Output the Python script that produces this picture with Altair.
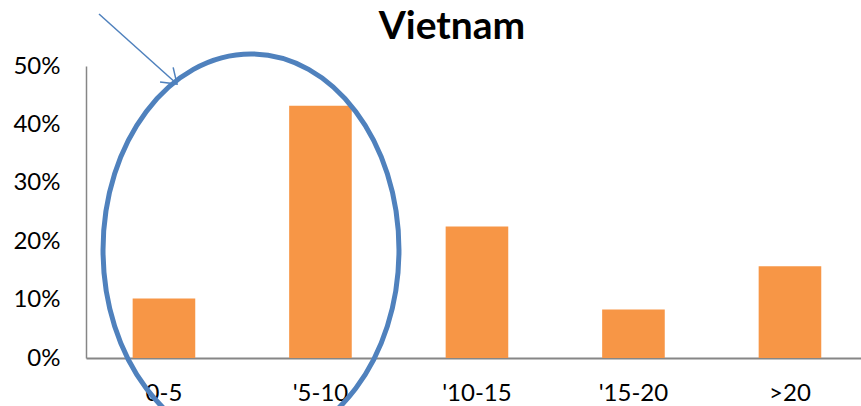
import altair as alt
import pandas as pd

# Share of respondents by years (Vietnam)
categories = ["0-5", "'5-10", "'10-15", "'15-20", ">20"]
shares = [0.102, 0.432, 0.225, 0.083, 0.157]
chart_title = "Vietnam"

df = pd.DataFrame({"range": categories, "share": shares})

AXIS_GREY = "#868686"
BAR_ORANGE = "#F79646"
MARK_BLUE = "#4F81BD"
FONT = "Lato"

x_enc = alt.X(
    "range:N",
    sort=categories,
    scale=alt.Scale(paddingInner=0.6, paddingOuter=0.276, align=0.54),
    axis=alt.Axis(
        title=None,
        labelAngle=0,
        ticks=False,
        labelFontSize=24,
        labelFont=FONT,
        labelColor="black",
        labelPadding=23,
        domainColor=AXIS_GREY,
        domainWidth=2,
    ),
)

y_enc = alt.Y(
    "share:Q",
    scale=alt.Scale(domain=[0, 0.5], nice=False),
    axis=alt.Axis(
        title=None,
        format=".0%",
        values=[0, 0.1, 0.2, 0.3, 0.4, 0.5],
        grid=False,
        ticks=False,
        labelFontSize=24,
        labelFont=FONT,
        labelColor="black",
        labelPadding=26,
        domainColor=AXIS_GREY,
        domainWidth=1.5,
    ),
)

bars = alt.Chart(df).mark_bar(color=BAR_ORANGE).encode(x=x_enc, y=y_enc)

one = df.head(1)

# Chart heading, centred above the bars
heading = alt.Chart(one).mark_text(
    text=chart_title,
    font=FONT,
    fontSize=39,
    fontWeight="bold",
    color="black",
    align="center",
    baseline="alphabetic",
).encode(x=alt.value(366), y=alt.value(-27))

# Hand-drawn style highlight: an ellipse around the first two groups
ellipse_path = "M -0.755 0 A 0.755 1 0 1 1 0.755 0 A 0.755 1 0 1 1 -0.755 0 Z"
ellipse = alt.Chart(one).mark_point(
    shape=ellipse_path,
    size=392 ** 2,
    filled=False,
    stroke=MARK_BLUE,
    strokeWidth=5,
    opacity=1,
).encode(x=alt.value(165), y=alt.value(184))

# Pointer arrow toward the ellipse
arrow_line = alt.Chart(one).mark_rule(
    color=MARK_BLUE, strokeWidth=1.5
).encode(
    x=alt.value(13), y=alt.value(-52), x2=alt.value(91), y2=alt.value(18)
)
arrow_head = alt.Chart(one).mark_point(
    shape="M -1 -0.7 L 0 0 L -1 0.7",
    size=784,
    filled=False,
    stroke=MARK_BLUE,
    strokeWidth=1.5,
    opacity=1,
    angle=42,
).encode(x=alt.value(91), y=alt.value(18))

chart = (
    alt.layer(bars, heading, ellipse, arrow_line, arrow_head)
    .properties(
        width=775,
        height=292,
        background="white",
        autosize=alt.AutoSizeParams(type="none"),
        padding={"left": 86, "top": 66, "right": 0, "bottom": 48},
    )
    .configure_view(stroke=None, strokeWidth=0)
)

chart.save("out.html", embed_options={"renderer": "svg", "actions": False})
